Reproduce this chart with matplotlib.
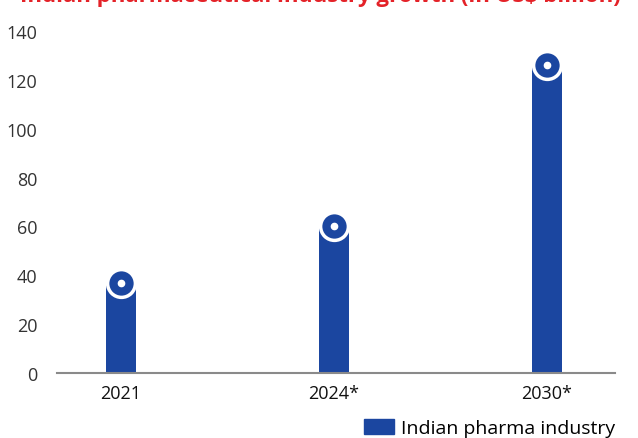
import matplotlib.pyplot as plt
from matplotlib.patches import Patch

plt.rcParams['font.family'] = ['Open Sans', 'DejaVu Sans']

years = ["2021", "2024*", "2030*"]
values = [37, 60, 126]
series_name = "Indian pharma industry"
title = "Indian pharmaceutical industry growth (in US$ billion)"

blue = "#1b46a0"
red = "#e42228"

W, H = 638, 439
fig = plt.figure(figsize=(W / 100, H / 100), dpi=100)
ax = fig.add_axes([57 / W, 1 - 374 / H, 558 / W, (374 - 32) / H])

x = list(range(len(years)))
ax.bar(x, values, width=0.14, color=blue, zorder=2)
# circle markers on bar tops
ax.plot(x, values, 'o', ms=20, mfc=blue, mec='white', mew=2.5,
        clip_on=False, zorder=3)
ax.plot(x, values, 'o', ms=4.5, color='white', clip_on=False, zorder=4)

ax.set_xlim(-0.30, 2.32)
ax.set_ylim(0, 140)
ax.set_yticks(range(0, 141, 20))
ax.set_xticks(x)
ax.set_xticklabels(years, fontsize=13, color="#111111")
ax.tick_params(axis='y', length=0, pad=14, labelsize=13, labelcolor="#333333")
ax.tick_params(axis='x', length=0, pad=8)
for s in ["top", "right", "left"]:
    ax.spines[s].set_visible(False)
ax.spines["bottom"].set_color("#8a8a8a")
ax.spines["bottom"].set_linewidth(1.5)

# title, mostly cut off at the top of the image (as in the source)
fig.text(20 / W, 1 - 2 / H, title, color=red, fontsize=16, fontweight='bold',
         ha='left', va='baseline')

fig.legend(handles=[Patch(color=blue, label=series_name)], loc='lower right',
           bbox_to_anchor=(615 / W, 1 / H), frameon=False, fontsize=14,
           handlelength=1.55, handleheight=0.85, handletextpad=0.35,
           borderpad=0, borderaxespad=0)

fig.savefig("out.png", dpi=100)
